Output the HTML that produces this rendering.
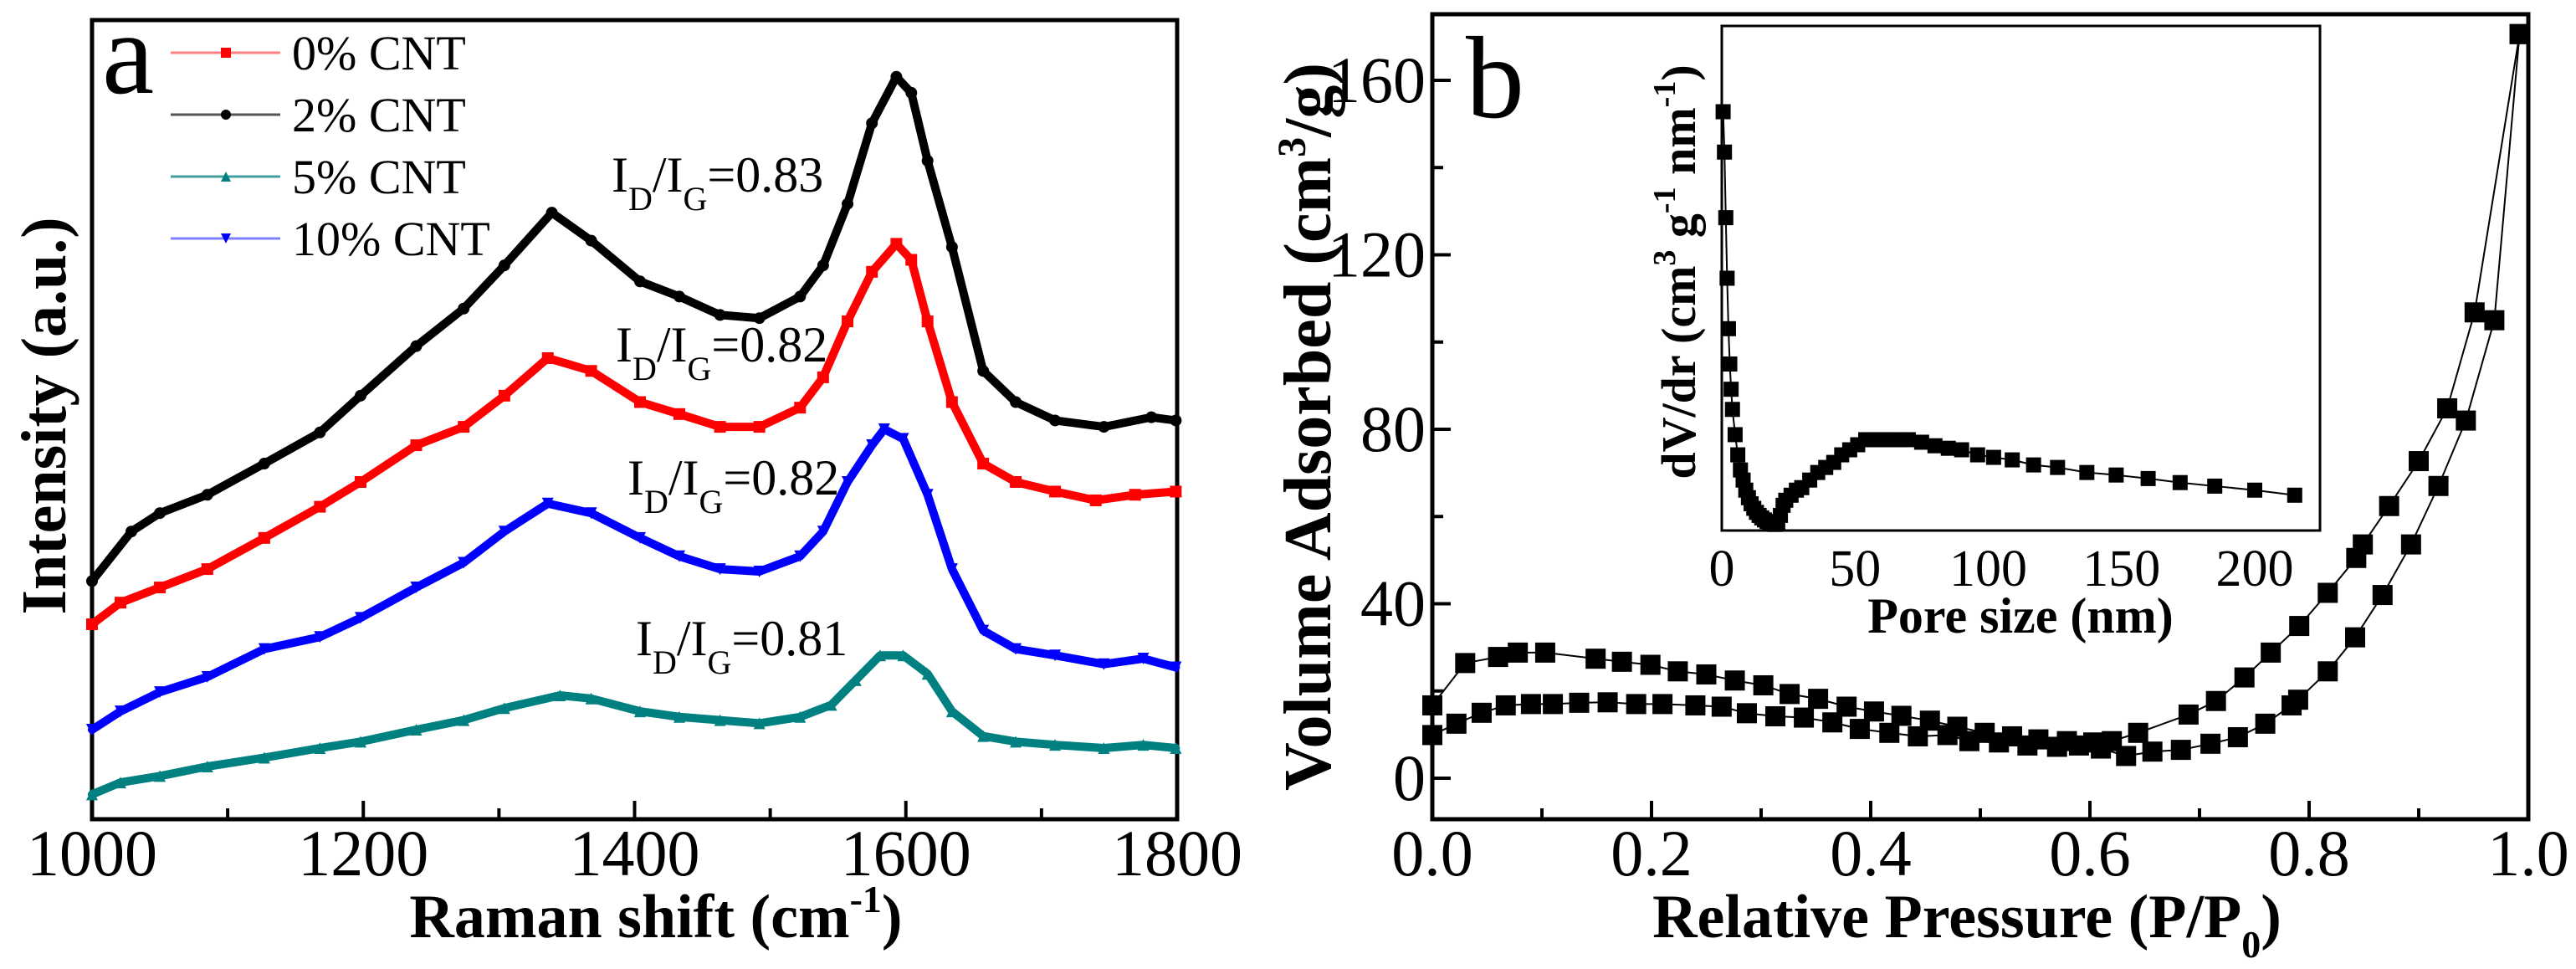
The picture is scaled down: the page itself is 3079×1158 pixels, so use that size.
<!DOCTYPE html>
<html><head><meta charset="utf-8"><style>
html,body{margin:0;padding:0;background:#fff;}
svg{display:block;font-family:"Liberation Serif","DejaVu Serif",serif;}
</style></head><body>
<svg id="fig" width="3079" height="1158" viewBox="0 0 3079 1158" xmlns="http://www.w3.org/2000/svg">
<g id="pa"></g>
<g id="pb"></g>
<g id="pi"></g>
</svg>
<script>
// ---------- Panel a data (Raman) ----------
const ramanTicks = [1000, 1200, 1400, 1600, 1800];
const ramanMinor = [1100, 1300, 1500, 1700];
const wnBlack = [1000,1029,1050,1085,1127,1168,1198,1239,1274,1304,1339,1368,1404,1433,1463,1492,1522,1539,1557,1575,1593,1604,1616,1634,1657,1681,1710,1746,1781,1799];
const cnt2 = [29.8,36,38.3,40.6,44.5,48.4,53,59.2,63.9,69.3,75.9,72.4,67.3,65.4,63.1,62.7,65.4,69.3,77,87.1,92.9,90.9,82.4,71.6,56.1,52.2,49.9,49.1,50.3,49.9];
const wnRed = [1000,1021,1050,1085,1127,1168,1198,1239,1274,1304,1336,1368,1404,1433,1463,1492,1522,1539,1557,1575,1593,1604,1616,1634,1657,1681,1710,1740,1769,1799];
const cnt0 = [24.4,27.1,29,31.3,35.2,39.1,42.2,46.8,49.1,53,57.7,56.1,52.2,50.7,49.1,49.1,51.5,55.3,62.3,68.5,72,70,62.3,52.2,44.5,42.2,41,39.9,40.6,41];
const wnBlue = [1000,1021,1050,1085,1127,1168,1198,1239,1274,1304,1336,1368,1404,1433,1463,1492,1522,1539,1557,1575,1584,1598,1616,1634,1657,1681,1710,1746,1775,1799];
const cnt10 = [11.2,13.5,15.9,17.8,21.3,22.8,25.2,29,32.1,36,39.5,38.3,35.2,32.9,31.3,31,32.9,36,42.2,46.8,48.8,47.6,40.6,31.3,23.6,21.3,20.5,19.4,20.1,19];
const wnTeal = [1000,1021,1050,1085,1127,1168,1198,1239,1274,1304,1345,1368,1404,1433,1463,1492,1522,1545,1563,1581,1598,1616,1634,1657,1681,1710,1746,1775,1799];
const cnt5 = [3.1,4.6,5.4,6.6,7.7,8.9,9.7,11.2,12.4,13.9,15.5,15.1,13.5,12.8,12.4,12,12.8,14.3,17.4,20.5,20.5,18.2,13.5,10.4,9.7,9.3,8.9,9.3,8.9];
const ratioLabels = ["0.83","0.82","0.82","0.81"];

// ---------- Panel b data (isotherm) ----------
const bXTicks = [0, 0.2, 0.4, 0.6, 0.8, 1.0];
const bXMinor = [0.1, 0.3, 0.5, 0.7, 0.9];
const bYTicks = [0, 40, 80, 120, 160];
const bYMinor = [20, 60, 100, 140];
const adsP = [0,0.022,0.045,0.067,0.09,0.11,0.134,0.16,0.186,0.21,0.24,0.264,0.287,0.313,0.339,0.365,0.39,0.417,0.443,0.47,0.49,0.517,0.543,0.57,0.59,0.61,0.633,0.657,0.683,0.71,0.735,0.76,0.784,0.79,0.817,0.842,0.867,0.893,0.918,0.943,0.969,0.992];
const adsV = [9.9,12.5,15,16.7,17,17,17.3,17.4,17,17,16.7,16.4,14.9,14.2,13.9,12.8,11.3,10.4,9.6,9.9,8.5,8.2,7.5,7.2,7.5,6.8,5.1,6.1,6.5,7.9,9.4,12.5,16.7,18,24.5,32.3,42,53.6,67,82,105,170.6];
const desP = [0,0.03,0.06,0.078,0.103,0.149,0.173,0.199,0.224,0.25,0.276,0.302,0.326,0.352,0.378,0.403,0.428,0.454,0.479,0.504,0.529,0.553,0.579,0.603,0.62,0.644,0.69,0.715,0.741,0.765,0.791,0.817,0.843,0.849,0.873,0.9,0.926,0.951,0.992];
const desV = [16.7,26.4,27.8,28.8,28.8,27.4,26.7,26,24.5,23.8,22.4,21.3,19.3,18.2,16.4,15.3,14.3,13.2,11.8,10.4,9.6,8.9,8.5,8.2,8.5,10.4,14.6,17.7,23.1,28.8,34.9,42.5,50.5,53.6,62.4,72.7,84.8,106.8,170.6];

// ---------- Inset data (pore size distribution) ----------
const iXTicks = [0, 50, 100, 150, 200];
const poreSize = [0.5,1,1.5,2,2.5,3,3.5,4,5,6,7,8,9,10,11,12,13,14,15,16,17,18,19,20,21,22,23,24,26,28,30,33,36,39,42,45,48,51,54,57,60,63,66,70,75,80,85,90,96,102,109,117,126,137,148,160,172,185,200,215];
const dVdr = [83,75,62,50,40,33,28,24,19,15,12,10,8,6.5,5.3,4.4,3.6,3,2.5,2.1,1.8,1.5,1.3,1.2,1.5,3,5,6,7,8,8.5,10,11.5,12.5,13.5,15,16,17,18,18,18,18,18,18,17.5,16.8,16.3,16,15,14.5,14,13,12.5,11.5,11,10.3,9.5,8.8,8,7];

const NS = "http://www.w3.org/2000/svg";
function mk(parent, tag, attrs, text){
  const e = document.createElementNS(NS, tag);
  for (const k in attrs) e.setAttribute(k, attrs[k]);
  if (text !== undefined) e.textContent = text;
  parent.appendChild(e);
  return e;
}

// ===== Panel a =====
const pa = document.getElementById('pa');
const aL=110, aR=1407, aT=24, aB=979;
const ax = w => aL + (w-1000)/800*(aR-aL);
const ay = v => aB - v/100*(aB-aT);
const frameA = mk(pa,'rect',{x:aL,y:aT,width:aR-aL,height:aB-aT,fill:'none',stroke:'#000','stroke-width':5});


ramanTicks.forEach(t=>{
  const l = mk(pa,'line',{x1:ax(t),x2:ax(t),y1:aB,y2:aB-22,stroke:'#000','stroke-width':4});
  
  
  const tx = mk(pa,'text',{x:ax(t),y:1046,'font-size':78,'text-anchor':'middle'},String(t));
  
  
});
ramanMinor.forEach(t=>{
  const l = mk(pa,'line',{x1:ax(t),x2:ax(t),y1:aB,y2:aB-13,stroke:'#000','stroke-width':4});
  
  
});
const series = [
  {w:wnRed, v:cnt0, c:'#ff0000', name:'0%-cnt', m:'sq'},
  {w:wnBlack, v:cnt2, c:'#000000', name:'2%-cnt', m:'ci'},
  {w:wnTeal, v:cnt5, c:'#008080', name:'5%-cnt', m:'tu'},
  {w:wnBlue, v:cnt10, c:'#0000ff', name:'10%-cnt', m:'td'}
];
function marker(g, m, x, y, s, c){
  let e;
  if (m==='sq') e = mk(g,'rect',{x:x-s/2,y:y-s/2,width:s,height:s,fill:c});
  else if (m==='ci') e = mk(g,'circle',{cx:x,cy:y,r:s/2,fill:c});
  else if (m==='tu') e = mk(g,'polygon',{points:`${x},${y-s/2} ${x-s/2},${y+s/2} ${x+s/2},${y+s/2}`,fill:c});
  else e = mk(g,'polygon',{points:`${x},${y+s/2} ${x-s/2},${y-s/2} ${x+s/2},${y-s/2}`,fill:c});
  return e;
}
series.forEach(s=>{
  const g = mk(pa,'g',{});
  
  
  const pts = s.w.map((w,i)=>ax(w)+','+ay(s.v[i])).join(' ');
  const pl = mk(g,'polyline',{points:pts,fill:'none',stroke:s.c,'stroke-width':10,'stroke-linejoin':'round','stroke-linecap':'round'});
  
  
  s.w.forEach((w,i)=>{
    const mm = marker(g, s.m, ax(w), ay(s.v[i]), 14, s.c);
    
    
  });
});
// legend
const legColors = ['#ff0000','#000000','#008080','#0000ff'];
const legLine = ['#ff8080','#555555','#40a0a0','#8080ff'];
const legText = ['0% CNT','2% CNT','5% CNT','10% CNT'];
const legM = ['sq','ci','tu','td'];
[63,137,211,285].forEach((y,i)=>{
  const g = mk(pa,'g',{});
  
  
  mk(g,'line',{x1:204,x2:335,y1:y,y2:y,stroke:legLine[i],'stroke-width':3});
  marker(g, legM[i], 270, y, 12, legColors[i]);
  mk(g,'text',{x:349,y:y+20,'font-size':58},legText[i]);
});
const la = mk(pa,'text',{x:122,y:111,'font-size':140},'a');


// ratio annotations
[[731,229],[736,432],[750,591],[760,783]].forEach((p,i)=>{
  const t = mk(pa,'text',{x:p[0],y:p[1],'font-size':60});
  
  
  mk(t,'tspan',{},'I');
  mk(t,'tspan',{dy:22,'font-size':40},'D');
  mk(t,'tspan',{dy:-22},'/I');
  mk(t,'tspan',{dy:22,'font-size':40},'G');
  mk(t,'tspan',{dy:-22},'='+ratioLabels[i]);
});
const xta = mk(pa,'text',{x:784,y:1120,'font-size':74,'font-weight':'bold','text-anchor':'middle'});


mk(xta,'tspan',{},'Raman shift (cm');
mk(xta,'tspan',{dy:-30,'font-size':46},'-1');
mk(xta,'tspan',{dy:30},')');
const yta = mk(pa,'text',{x:0,y:0,'font-size':76,'font-weight':'bold','text-anchor':'middle',transform:'translate(78,497) rotate(-90)'},'Intensity (a.u.)');



// ===== Panel b =====
const pb = document.getElementById('pb');
const bL=1712, bR=3022, bT=17, bB=979;
const bx = p => bL + p*(bR-bL);
const by = v => 930 - v*(930-96)/160;
const frameB = mk(pb,'rect',{x:bL,y:bT,width:bR-bL,height:bB-bT,fill:'none',stroke:'#000','stroke-width':5});


bXTicks.forEach(t=>{
  const l = mk(pb,'line',{x1:bx(t),x2:bx(t),y1:bB,y2:bB-22,stroke:'#000','stroke-width':4});
  
  
  const tx = mk(pb,'text',{x:bx(t),y:1046,'font-size':78,'text-anchor':'middle'},t.toFixed(1));
  
  
});
bXMinor.forEach(t=>{
  const l = mk(pb,'line',{x1:bx(t),x2:bx(t),y1:bB,y2:bB-13,stroke:'#000','stroke-width':4});
  
  
});
bYTicks.forEach(t=>{
  const l = mk(pb,'line',{x1:bL,x2:bL+22,y1:by(t),y2:by(t),stroke:'#000','stroke-width':4});
  
  
  const tx = mk(pb,'text',{x:bL-8,y:by(t)+26,'font-size':78,'text-anchor':'end'},String(t));
  
  
});
bYMinor.forEach(t=>{
  const l = mk(pb,'line',{x1:bL,x2:bL+13,y1:by(t),y2:by(t),stroke:'#000','stroke-width':4});
  
  
});
[[adsP,adsV,'adsorption'],[desP,desV,'desorption']].forEach(s=>{
  const g = mk(pb,'g',{});
  
  
  mk(g,'polyline',{points:s[0].map((p,i)=>bx(p)+','+by(s[1][i])).join(' '),fill:'none',stroke:'#000','stroke-width':2});
  s[0].forEach((p,i)=>{
    const r = mk(g,'rect',{x:bx(p)-12,y:by(s[1][i])-12,width:24,height:24,fill:'#000'});
    
    
  });
});
const lb = mk(pb,'text',{x:1752,y:140,'font-size':140},'b');


const xtb = mk(pb,'text',{x:2351,y:1120,'font-size':74,'font-weight':'bold','text-anchor':'middle'});


mk(xtb,'tspan',{},'Relative Pressure (P/P');
mk(xtb,'tspan',{dy:24,'font-size':46},'0');
mk(xtb,'tspan',{dy:-24},')');
const ytb = mk(pb,'text',{x:0,y:0,'font-size':80,'font-weight':'bold','text-anchor':'middle',transform:'translate(1590,510) rotate(-90)'});


mk(ytb,'tspan',{},'Volume Adsorbed (cm');
mk(ytb,'tspan',{dy:-30,'font-size':48},'3');
mk(ytb,'tspan',{dy:30},'/g)');

// ===== Inset =====
const pi = document.getElementById('pi');
const iL=2058, iR=2773, iT=31, iB=634;
const ix = d => iL + d*(2695-iL)/200;
const iy = v => iB - v/100*(iB-iT);
const frameI = mk(pi,'rect',{x:iL,y:iT,width:iR-iL,height:iB-iT,fill:'#fff',stroke:'#000','stroke-width':3});


iXTicks.forEach(t=>{
  const tx = mk(pi,'text',{x:ix(t),y:700,'font-size':62,'text-anchor':'middle'},String(t));
  
  
});
const ig = mk(pi,'g',{});


mk(ig,'polyline',{points:poreSize.map((d,i)=>ix(d)+','+iy(dVdr[i])).join(' '),fill:'none',stroke:'#000','stroke-width':2});
poreSize.forEach((d,i)=>{
  const r = mk(ig,'rect',{x:ix(d)-9,y:iy(dVdr[i])-9,width:18,height:18,fill:'#000'});
  
  
});
const xti = mk(pi,'text',{x:2415,y:756,'font-size':60,'font-weight':'bold','text-anchor':'middle'},'Pore size (nm)');


const yti = mk(pi,'text',{x:0,y:0,'font-size':58,'font-weight':'bold','text-anchor':'middle',transform:'translate(2026,325) rotate(-90)'});


mk(yti,'tspan',{},'dV/dr (cm');
mk(yti,'tspan',{dy:-24,'font-size':38},'3');
mk(yti,'tspan',{dy:24},' g');
mk(yti,'tspan',{dy:-24,'font-size':38},'-1');
mk(yti,'tspan',{dy:24},' nm');
mk(yti,'tspan',{dy:-24,'font-size':38},'-1');
mk(yti,'tspan',{dy:24},')');
</script>
</body></html>
